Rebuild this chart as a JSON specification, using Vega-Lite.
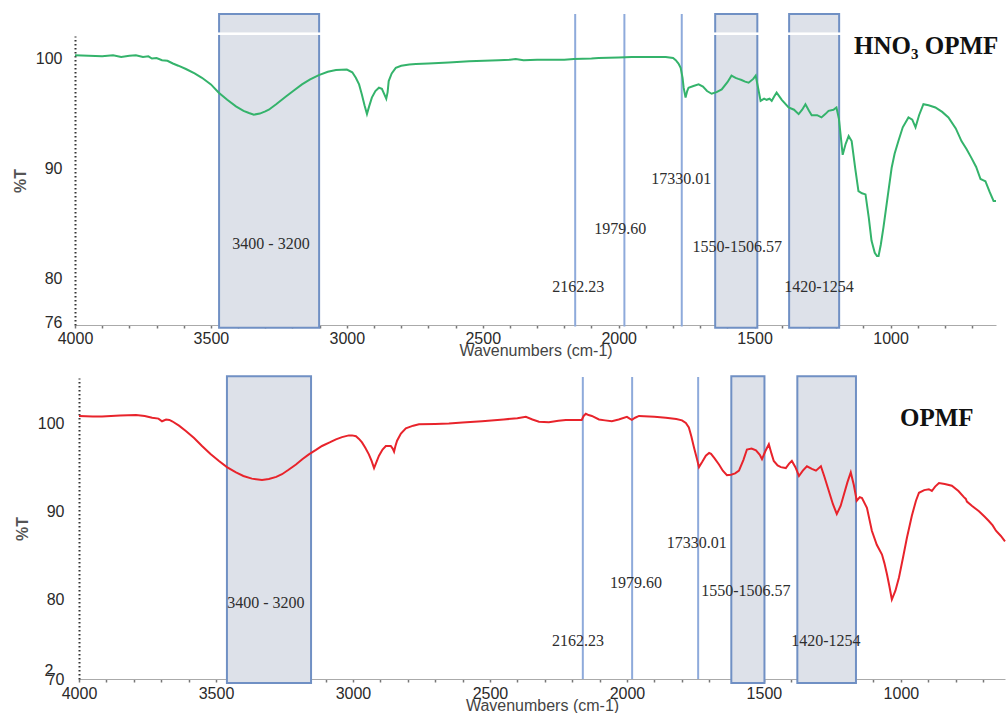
{
  "$schema": "https://vega.github.io/schema/vega-lite/v6.json",
  "padding": {"left": 12, "top": 12, "right": 0, "bottom": 0},
  "background": "white",
  "config": {
    "view": {"stroke": null},
    "concat": {"spacing": 53},
    "axis": {"labelFont": "Liberation Sans", "titleFont": "Liberation Sans", "labelFontSize": 16, "labelColor": "#2a2a2a", "titleColor": "#444", "titleFontWeight": "normal", "grid": false}
  },
  "bounds": "flush",
  "datasets": {
    "hno3": [
      {"wn":4000,"t":100.25},{"wn":3950,"t":100.2},{"wn":3900,"t":100.15},{"wn":3860,"t":100.25},{"wn":3830,"t":100.1},{"wn":3800,"t":100.2},{"wn":3776,"t":100.25},{"wn":3750,"t":100.1},{"wn":3730,"t":100.15},{"wn":3717,"t":99.95},{"wn":3700,"t":100.0},{"wn":3680,"t":99.8},{"wn":3660,"t":99.75},{"wn":3640,"t":99.5},{"wn":3620,"t":99.3},{"wn":3592,"t":99.0},{"wn":3560,"t":98.6},{"wn":3533,"t":98.2},{"wn":3500,"t":97.6},{"wn":3471,"t":96.85},{"wn":3440,"t":96.2},{"wn":3408,"t":95.6},{"wn":3380,"t":95.2},{"wn":3360,"t":95.0},{"wn":3342,"t":94.85},{"wn":3320,"t":94.95},{"wn":3300,"t":95.15},{"wn":3287,"t":95.3},{"wn":3260,"t":95.8},{"wn":3224,"t":96.5},{"wn":3195,"t":97.05},{"wn":3165,"t":97.6},{"wn":3135,"t":98.05},{"wn":3103,"t":98.45},{"wn":3070,"t":98.75},{"wn":3040,"t":98.9},{"wn":3000,"t":98.95},{"wn":2980,"t":98.7},{"wn":2967,"t":98.2},{"wn":2955,"t":97.6},{"wn":2945,"t":96.7},{"wn":2935,"t":95.7},{"wn":2926,"t":94.9},{"wn":2918,"t":95.6},{"wn":2908,"t":96.4},{"wn":2895,"t":97.0},{"wn":2882,"t":97.3},{"wn":2871,"t":97.2},{"wn":2862,"t":96.7},{"wn":2855,"t":96.3},{"wn":2850,"t":96.9},{"wn":2846,"t":97.9},{"wn":2835,"t":98.6},{"wn":2820,"t":99.1},{"wn":2800,"t":99.3},{"wn":2770,"t":99.4},{"wn":2746,"t":99.45},{"wn":2700,"t":99.5},{"wn":2625,"t":99.6},{"wn":2550,"t":99.7},{"wn":2441,"t":99.8},{"wn":2400,"t":99.85},{"wn":2379,"t":99.9},{"wn":2350,"t":99.8},{"wn":2300,"t":99.85},{"wn":2257,"t":99.85},{"wn":2200,"t":99.85},{"wn":2165,"t":99.9},{"wn":2100,"t":99.95},{"wn":2074,"t":100.0},{"wn":2000,"t":100.05},{"wn":1952,"t":100.1},{"wn":1900,"t":100.1},{"wn":1827,"t":100.1},{"wn":1800,"t":100.0},{"wn":1790,"t":99.8},{"wn":1780,"t":99.5},{"wn":1772,"t":99.1},{"wn":1765,"t":98.2},{"wn":1761,"t":97.3},{"wn":1754,"t":96.4},{"wn":1748,"t":97.0},{"wn":1743,"t":97.3},{"wn":1725,"t":97.45},{"wn":1706,"t":97.6},{"wn":1690,"t":97.4},{"wn":1675,"t":97.0},{"wn":1658,"t":96.75},{"wn":1640,"t":96.9},{"wn":1621,"t":97.15},{"wn":1600,"t":97.8},{"wn":1585,"t":98.4},{"wn":1570,"t":98.2},{"wn":1560,"t":98.1},{"wn":1548,"t":98.0},{"wn":1535,"t":97.85},{"wn":1522,"t":97.75},{"wn":1505,"t":98.1},{"wn":1496,"t":98.4},{"wn":1488,"t":97.4},{"wn":1478,"t":96.1},{"wn":1465,"t":96.3},{"wn":1456,"t":96.2},{"wn":1445,"t":96.3},{"wn":1437,"t":96.1},{"wn":1428,"t":96.5},{"wn":1419,"t":96.85},{"wn":1400,"t":96.2},{"wn":1375,"t":95.5},{"wn":1355,"t":95.3},{"wn":1338,"t":94.9},{"wn":1325,"t":95.3},{"wn":1313,"t":95.8},{"wn":1300,"t":95.2},{"wn":1290,"t":94.8},{"wn":1270,"t":94.8},{"wn":1254,"t":94.6},{"wn":1240,"t":94.9},{"wn":1228,"t":95.2},{"wn":1210,"t":95.3},{"wn":1199,"t":95.5},{"wn":1190,"t":94.5},{"wn":1184,"t":93.1},{"wn":1176,"t":91.2},{"wn":1165,"t":92.2},{"wn":1154,"t":92.9},{"wn":1143,"t":92.45},{"wn":1130,"t":90.0},{"wn":1118,"t":87.9},{"wn":1105,"t":87.7},{"wn":1092,"t":87.6},{"wn":1080,"t":85.5},{"wn":1070,"t":83.4},{"wn":1058,"t":82.3},{"wn":1050,"t":82.0},{"wn":1044,"t":82.0},{"wn":1036,"t":83.0},{"wn":1026,"t":84.6},{"wn":1010,"t":87.5},{"wn":996,"t":90.0},{"wn":985,"t":91.3},{"wn":971,"t":92.45},{"wn":955,"t":93.7},{"wn":934,"t":94.6},{"wn":920,"t":94.4},{"wn":908,"t":93.7},{"wn":895,"t":94.8},{"wn":879,"t":95.8},{"wn":860,"t":95.7},{"wn":835,"t":95.5},{"wn":810,"t":95.1},{"wn":787,"t":94.6},{"wn":760,"t":93.6},{"wn":739,"t":92.45},{"wn":720,"t":91.7},{"wn":702,"t":90.9},{"wn":685,"t":90.1},{"wn":669,"t":89.0},{"wn":660,"t":88.9},{"wn":651,"t":88.8},{"wn":635,"t":87.8},{"wn":621,"t":87.0},{"wn":612,"t":87.0}
    ],
    "opmf": [
      {"wn":4000,"t":100.8},{"wn":3950,"t":100.75},{"wn":3916,"t":100.75},{"wn":3850,"t":100.85},{"wn":3792,"t":100.9},{"wn":3760,"t":100.8},{"wn":3733,"t":100.6},{"wn":3710,"t":100.5},{"wn":3697,"t":100.2},{"wn":3682,"t":100.4},{"wn":3670,"t":100.35},{"wn":3660,"t":100.2},{"wn":3635,"t":99.7},{"wn":3610,"t":99.1},{"wn":3580,"t":98.3},{"wn":3551,"t":97.4},{"wn":3520,"t":96.5},{"wn":3489,"t":95.7},{"wn":3460,"t":95.0},{"wn":3427,"t":94.4},{"wn":3400,"t":94.0},{"wn":3369,"t":93.7},{"wn":3332,"t":93.55},{"wn":3307,"t":93.65},{"wn":3280,"t":93.9},{"wn":3259,"t":94.2},{"wn":3235,"t":94.7},{"wn":3208,"t":95.3},{"wn":3185,"t":95.9},{"wn":3161,"t":96.45},{"wn":3135,"t":96.95},{"wn":3113,"t":97.4},{"wn":3085,"t":97.8},{"wn":3062,"t":98.15},{"wn":3040,"t":98.4},{"wn":3015,"t":98.6},{"wn":3003,"t":98.6},{"wn":2989,"t":98.5},{"wn":2978,"t":98.2},{"wn":2967,"t":97.8},{"wn":2955,"t":97.2},{"wn":2942,"t":96.45},{"wn":2932,"t":95.7},{"wn":2923,"t":94.9},{"wn":2914,"t":95.6},{"wn":2905,"t":96.3},{"wn":2892,"t":97.0},{"wn":2880,"t":97.4},{"wn":2862,"t":97.4},{"wn":2855,"t":97.1},{"wn":2850,"t":96.75},{"wn":2845,"t":97.4},{"wn":2839,"t":98.0},{"wn":2825,"t":98.8},{"wn":2807,"t":99.4},{"wn":2780,"t":99.7},{"wn":2759,"t":99.85},{"wn":2700,"t":99.9},{"wn":2650,"t":99.95},{"wn":2600,"t":100.05},{"wn":2529,"t":100.2},{"wn":2450,"t":100.4},{"wn":2400,"t":100.55},{"wn":2369,"t":100.7},{"wn":2345,"t":100.4},{"wn":2321,"t":100.15},{"wn":2285,"t":100.1},{"wn":2250,"t":100.25},{"wn":2223,"t":100.35},{"wn":2180,"t":100.35},{"wn":2165,"t":100.35},{"wn":2158,"t":100.8},{"wn":2150,"t":101.05},{"wn":2140,"t":100.9},{"wn":2128,"t":100.8},{"wn":2102,"t":100.4},{"wn":2080,"t":100.3},{"wn":2055,"t":100.2},{"wn":2030,"t":100.4},{"wn":2000,"t":100.7},{"wn":1990,"t":100.5},{"wn":1982,"t":100.35},{"wn":1970,"t":100.6},{"wn":1956,"t":100.8},{"wn":1900,"t":100.7},{"wn":1858,"t":100.6},{"wn":1820,"t":100.45},{"wn":1799,"t":100.3},{"wn":1785,"t":100.0},{"wn":1774,"t":99.5},{"wn":1765,"t":98.5},{"wn":1755,"t":97.2},{"wn":1745,"t":96.0},{"wn":1737,"t":95.0},{"wn":1725,"t":95.6},{"wn":1712,"t":96.3},{"wn":1700,"t":96.6},{"wn":1693,"t":96.5},{"wn":1680,"t":96.0},{"wn":1664,"t":95.3},{"wn":1650,"t":94.6},{"wn":1635,"t":94.1},{"wn":1620,"t":94.15},{"wn":1605,"t":94.3},{"wn":1591,"t":94.6},{"wn":1575,"t":95.8},{"wn":1562,"t":97.0},{"wn":1545,"t":97.1},{"wn":1529,"t":96.9},{"wn":1515,"t":96.4},{"wn":1507,"t":95.9},{"wn":1495,"t":96.8},{"wn":1482,"t":97.6},{"wn":1472,"t":96.5},{"wn":1464,"t":95.7},{"wn":1450,"t":95.2},{"wn":1438,"t":95.0},{"wn":1420,"t":94.9},{"wn":1408,"t":95.4},{"wn":1398,"t":95.7},{"wn":1385,"t":95.0},{"wn":1372,"t":94.0},{"wn":1358,"t":94.6},{"wn":1343,"t":95.1},{"wn":1325,"t":94.8},{"wn":1310,"t":94.6},{"wn":1292,"t":95.1},{"wn":1280,"t":94.0},{"wn":1263,"t":92.3},{"wn":1248,"t":90.8},{"wn":1234,"t":89.7},{"wn":1220,"t":90.6},{"wn":1208,"t":91.9},{"wn":1195,"t":93.3},{"wn":1183,"t":94.4},{"wn":1172,"t":93.0},{"wn":1161,"t":91.2},{"wn":1150,"t":91.6},{"wn":1142,"t":91.5},{"wn":1124,"t":90.4},{"wn":1106,"t":87.8},{"wn":1088,"t":86.2},{"wn":1069,"t":85.1},{"wn":1060,"t":84.1},{"wn":1051,"t":82.9},{"wn":1042,"t":81.5},{"wn":1033,"t":80.0},{"wn":1020,"t":81.0},{"wn":1007,"t":82.5},{"wn":992,"t":84.8},{"wn":978,"t":87.0},{"wn":960,"t":89.5},{"wn":945,"t":91.2},{"wn":934,"t":92.1},{"wn":915,"t":92.4},{"wn":898,"t":92.5},{"wn":887,"t":92.3},{"wn":875,"t":92.8},{"wn":861,"t":93.2},{"wn":840,"t":93.1},{"wn":814,"t":92.9},{"wn":790,"t":92.3},{"wn":770,"t":91.6},{"wn":763,"t":91.4},{"wn":759,"t":91.1},{"wn":740,"t":90.6},{"wn":715,"t":90.0},{"wn":695,"t":89.4},{"wn":679,"t":88.9},{"wn":665,"t":88.4},{"wn":653,"t":87.8},{"wn":635,"t":87.2},{"wn":620,"t":86.6}
    ],
    "bandsTop": [{"from":3470,"to":3102},{"from":1645,"to":1490},{"from":1373,"to":1189}],
    "linesTop": [{"wn":2160},{"wn":1979},{"wn":1768}],
    "labelsTop": [
      {"wn":3279,"t":83.1,"label":"3400 - 3200"},
      {"wn":2149,"t":79.2,"label":"2162.23"},
      {"wn":1994,"t":84.45,"label":"1979.60"},
      {"wn":1770,"t":89.0,"label":"17330.01"},
      {"wn":1564,"t":82.8,"label":"1550-1506.57"},
      {"wn":1263,"t":79.2,"label":"1420-1254"}
    ],
    "bandsBottom": [{"from":3460,"to":3153},{"from":1619,"to":1498},{"from":1378,"to":1164}],
    "linesBottom": [{"wn":2161},{"wn":1981},{"wn":1740}],
    "labelsBottom": [
      {"wn":3318,"t":79.6,"label":"3400 - 3200"},
      {"wn":2179,"t":75.3,"label":"2162.23"},
      {"wn":1967,"t":81.9,"label":"1979.60"},
      {"wn":1745,"t":86.4,"label":"17330.01"},
      {"wn":1566,"t":81.0,"label":"1550-1506.57"},
      {"wn":1274,"t":75.3,"label":"1420-1254"}
    ]
  },
  "vconcat": [
    {
      "width": 921,
      "height": 289,
      "encoding": {
        "x": {"type": "quantitative", "scale": {"domain": [4000, 612], "nice": false, "zero": false},
          "axis": {"title": "Wavenumbers (cm-1)", "titleFontSize": 16, "titlePadding": -4, "values": [4000,3900,3800,3700,3600,3500,3400,3300,3200,3100,3000,2900,2800,2700,2600,2500,2400,2300,2200,2100,2000,1900,1800,1700,1600,1500,1400,1300,1200,1100,1000,900,800,700], "format": "d", "labelExpr": "datum.value % 500 === 0 ? datum.label : ''", "labelOverlap": false, "labelFlush": false, "labelPadding": 2, "tickSize": 3, "tickColor": "#777", "tickWidth": 1.5, "domainColor": "#aaa", "domainWidth": 1}},
        "y": {"type": "quantitative", "scale": {"domain": [75.73, 102], "nice": false, "zero": false},
          "axis": {"title": "%T", "titleFontSize": 16, "titleFontWeight": "bold", "titleColor": "#555", "titlePadding": 7, "values": [76, 80, 90, 100], "format": "d", "ticks": false, "labelPadding": 13, "domainColor": "#333", "domainDash": [1.5, 2.5], "domainWidth": 2}}
      },
      "layer": [
        {"data": {"name": "bandsTop"}, "mark": {"type": "rect", "fill": "#dde1e9", "stroke": "#7090c4", "strokeWidth": 2},
          "encoding": {"x": {"field": "from"}, "x2": {"field": "to"}, "y": {"datum": 104}, "y2": {"datum": 75.48}}},
        {"data": {"name": "bandsTop"}, "mark": {"type": "rule", "color": "white", "strokeWidth": 2},
          "encoding": {"y": {"datum": 102.2}}},
        {"data": {"name": "linesTop"}, "mark": {"type": "rule", "color": "#8eaadb", "strokeWidth": 2},
          "encoding": {"x": {"field": "wn"}, "y": {"datum": 104}, "y2": {"datum": 75.6}}},
        {"data": {"name": "hno3"}, "mark": {"type": "line", "color": "#34b36b", "strokeWidth": 2},
          "encoding": {"x": {"field": "wn"}, "y": {"field": "t"}}},
        {"data": {"name": "labelsTop"}, "mark": {"type": "text", "font": "Liberation Serif", "fontSize": 16, "color": "#2e2e2e"},
          "encoding": {"x": {"field": "wn"}, "y": {"field": "t"}, "text": {"field": "label"}}},
        {"data": {"values": [{"wn": 869, "t": 101.1, "label": "HNO₃ OPMF"}]}, "mark": {"type": "text", "font": "Liberation Serif", "fontSize": 25, "fontWeight": "bold", "color": "#111"},
          "encoding": {"x": {"field": "wn"}, "y": {"field": "t"}, "text": {"field": "label"}}}
      ]
    },
    {
      "width": 930,
      "height": 301,
      "encoding": {
        "x": {"type": "quantitative", "scale": {"domain": [4000, 620], "range": [4, 930], "nice": false, "zero": false},
          "axis": {"title": "Wavenumbers (cm-1)", "titleFontSize": 16, "titlePadding": -4, "values": [4000,3900,3800,3700,3600,3500,3400,3300,3200,3100,3000,2900,2800,2700,2600,2500,2400,2300,2200,2100,2000,1900,1800,1700,1600,1500,1400,1300,1200,1100,1000,900,800,700], "format": "d", "labelExpr": "datum.value % 500 === 0 ? datum.label : ''", "labelOverlap": false, "labelFlush": false, "labelPadding": 3, "tickSize": 3, "tickColor": "#777", "tickWidth": 1.5, "domainColor": "#aaa", "domainWidth": 1}},
        "y": {"type": "quantitative", "scale": {"domain": [71, 105.1], "nice": false, "zero": false},
          "axis": {"title": "%T", "titleFontSize": 16, "titleFontWeight": "bold", "titleColor": "#555", "titlePadding": 7, "offset": -4, "values": [71, 80, 90, 100], "format": "d", "labelExpr": "datum.value < 75 ? '70' : datum.label", "ticks": false, "labelPadding": 15, "domainColor": "#333", "domainDash": [1.5, 2.5], "domainWidth": 2}}
      },
      "layer": [
        {"data": {"name": "bandsBottom"}, "mark": {"type": "rect", "fill": "#dde1e9", "stroke": "#7090c4", "strokeWidth": 2},
          "encoding": {"x": {"field": "from"}, "x2": {"field": "to"}, "y": {"datum": 105.3}, "y2": {"datum": 70.55}}},
        {"data": {"name": "linesBottom"}, "mark": {"type": "rule", "color": "#8eaadb", "strokeWidth": 2},
          "encoding": {"x": {"field": "wn"}, "y": {"datum": 105.2}, "y2": {"datum": 71}}},
        {"data": {"name": "opmf"}, "mark": {"type": "line", "color": "#e8232b", "strokeWidth": 2},
          "encoding": {"x": {"field": "wn"}, "y": {"field": "t"}}},
        {"data": {"name": "labelsBottom"}, "mark": {"type": "text", "font": "Liberation Serif", "fontSize": 16, "color": "#2e2e2e"},
          "encoding": {"x": {"field": "wn"}, "y": {"field": "t"}, "text": {"field": "label"}}},
        {"data": {"values": [{"wn": 869, "t": 100.57, "label": "OPMF"}]}, "mark": {"type": "text", "font": "Liberation Serif", "fontSize": 25, "fontWeight": "bold", "color": "#111"},
          "encoding": {"x": {"field": "wn"}, "y": {"field": "t"}, "text": {"field": "label"}}},
        {"data": {"values": [{"wn": 4110, "t": 71.9, "label": "2"}]}, "mark": {"type": "text", "font": "Liberation Sans", "fontSize": 16, "color": "#2a2a2a"},
          "encoding": {"x": {"field": "wn"}, "y": {"field": "t"}, "text": {"field": "label"}}}
      ]
    }
  ]
}
